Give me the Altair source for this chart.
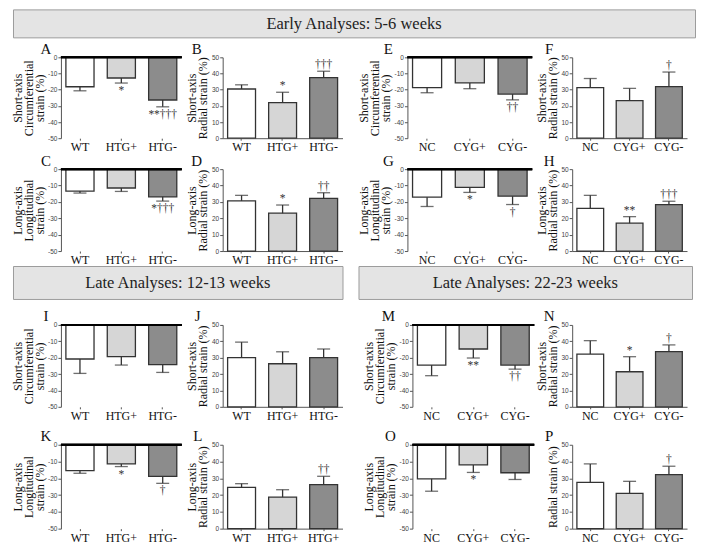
import altair as alt
import pandas as pd

SERIF = "Liberation Serif"

HTG_LABELS = ["WT", "HTG+", "HTG-"]
CYG_LABELS = ["NC", "CYG+", "CYG-"]
L_LABELS = ["WT", "HTG+", "HTG+"]
FILLS = ["#ffffff", "#d6d6d6", "#8c8c8c"]

SA_CIRC = ["Short-axis", "Circumferential", "strain (%)"]
SA_RAD = ["Short-axis", "Radial strain (%)"]
LA_LONG = ["Long-axis", "Longitudinal", "strain (%)"]
LA_RAD = ["Long-axis", "Radial strain (%)"]
RAD_ONLY = "Radial strain (%)"

# ---- Early 5-6 weeks ----
A_mean = [-18.2, -12.8, -26.4]
A_err = [2.5, 3.1, 4.2]
A_sig = ["", "*", "**†††"]
B_mean = [30.4, 22.0, 37.4]
B_err = [2.6, 6.4, 4.0]
B_sig = ["", "*", "†††"]
C_mean = [-13.4, -11.5, -16.9]
C_err = [1.2, 2.1, 2.6]
C_sig = ["", "", "*†††"]
D_mean = [30.6, 23.1, 32.2]
D_err = [3.4, 5.0, 3.4]
D_sig = ["", "*", "††"]
E_mean = [-18.7, -15.8, -22.7]
E_err = [3.2, 3.6, 3.6]
E_sig = ["", "", "††"]
F_mean = [31.3, 23.2, 31.9]
F_err = [5.6, 7.6, 9.0]
F_sig = ["", "", "†"]
G_mean = [-17.1, -11.1, -16.5]
G_err = [5.7, 3.1, 5.1]
G_sig = ["", "*", "†"]
H_mean = [26.0, 17.0, 28.4]
H_err = [8.0, 4.0, 2.0]
H_sig = ["", "**", "†††"]
# ---- Late 12-13 weeks ----
I_mean = [-20.8, -19.4, -24.3]
I_err = [8.8, 5.1, 4.7]
I_sig = ["", "", ""]
J_mean = [30.0, 26.3, 30.0]
J_err = [9.5, 7.3, 5.3]
J_sig = ["", "", ""]
K_mean = [-15.4, -11.4, -18.8]
K_err = [1.6, 1.6, 4.2]
K_sig = ["", "*", "†"]
L_mean = [24.6, 18.8, 26.2]
L_err = [2.2, 4.4, 5.0]
L_sig = ["", "", "††"]
# ---- Late 22-23 weeks ----
M_mean = [-24.5, -14.7, -24.5]
M_err = [6.5, 5.5, 2.5]
M_sig = ["", "**", "††"]
N_mean = [32.2, 21.4, 33.7]
N_err = [8.2, 9.2, 4.1]
N_sig = ["", "*", "†"]
O_mean = [-20.3, -12.0, -16.7]
O_err = [7.4, 4.5, 4.0]
O_sig = ["", "*", ""]
P_mean = [27.6, 21.0, 32.2]
P_err = [11.0, 7.2, 5.0]
P_sig = ["", "", "†"]

DARK = "#333333"
LETTER_DY = -8.5


def panel(letter, labels, means, errs, sigs, ytitle, neg, width, height, letter_dx):
    ends = [m - e if neg else m + e for m, e in zip(means, errs)]
    df = pd.DataFrame({"i": [0, 1, 2], "mean": means, "end": ends, "sig": sigs,
                       "fill": FILLS, "zero": [0, 0, 0]})
    label_expr = "[" + ",".join("'%s'" % l for l in labels) + "][datum.value]"
    xax = alt.Axis(title=None, labelExpr=label_expr, labelAngle=0, labelFont=SERIF,
                   labelFontSize=12, labelColor="#111", labelPadding=1.5, ticks=True,
                   tickSize=2, tickColor="#555", domain=not neg, domainColor="#555")
    x = alt.X("i:O", axis=xax, scale=alt.Scale(paddingInner=0.32, paddingOuter=0.12))
    dom = [-50, 0] if neg else [0, 50]
    vals = list(range(-50, 1, 10)) if neg else list(range(0, 51, 10))
    yax = alt.Axis(title=ytitle, values=vals, tickCount=11, titleFont=SERIF, titleFontSize=12,
                   titleFontWeight="normal", titleColor="#111", titleLineHeight=11,
                   titlePadding=1.5, labelFontSize=6.5, labelColor="#444", labelPadding=1,
                   labelExpr="datum.value", labelOverlap=False, labelBound=False,
                   tickSize=3, tickColor="#555", domainColor="#555", grid=False)
    y = alt.Y("mean:Q", scale=alt.Scale(domain=dom, nice=False), axis=yax)
    base = alt.Chart(df)
    bars = base.mark_bar(stroke=DARK, strokeWidth=1.3).encode(
        x=x, y=y, y2="zero:Q", fill=alt.Fill("fill:N", scale=None))
    err = base.mark_rule(color=DARK, strokeWidth=1.3).encode(x=x, y="mean:Q", y2="end:Q")
    cap = base.mark_tick(color=DARK, thickness=1.3, size=13).encode(x=x, y="end:Q")
    ann = base.mark_text(font=SERIF, fontSize=11.5, color="#333",
                         baseline="top" if neg else "bottom",
                         dy=2 if neg else -1).encode(x=x, y="end:Q", text="sig:N")
    lett = alt.Chart(pd.DataFrame({"t": [letter]})).mark_text(
        font=SERIF, fontSize=15, color="#111", align="center", baseline="middle").encode(
        x=alt.value(letter_dx), y=alt.value(LETTER_DY), text="t:N")
    layers = [bars, err, cap, ann]
    if neg:
        layers.append(base.mark_rule(color="black", strokeWidth=2).encode(y=alt.datum(0)))
    layers.append(lett)
    return alt.layer(*layers).properties(width=width, height=height)


def spacer(w, h):
    return alt.Chart(pd.DataFrame({"t": [""]})).mark_text().encode(
        text="t:N", x=alt.value(0), y=alt.value(0)).properties(width=w, height=h)


def banner(text, w, h):
    return alt.Chart(pd.DataFrame({"t": [text]})).mark_text(
        font=SERIF, fontSize=16.5, color="#222").encode(
        x=alt.value(w / 2), y=alt.value(h / 2 + 1), text="t:N").properties(
        width=w, height=h,
        view=alt.ViewBackground(fill="#e4e4e4", stroke="#9c9c9c", strokeWidth=1))


NCOL = 8
ORIGIN = 12


def panel_row(specs, height):
    items = []
    cur = ORIGIN
    for (px, w, lx, args) in specs:
        items.append(spacer(px - cur, height))
        items.append(panel(*args, width=w, height=height, letter_dx=lx - px))
        cur = px + w
    return items


def spacer_row(h):
    return [spacer(1, h) for _ in range(NCOL)]


def grid(items):
    return alt.concat(*items, columns=NCOL, spacing=0).properties(align="each", bounds="flush")


R1_H, R1_GAP, R2_H = 81, 31, 82
R3_H, R3_GAP, R4_H = 82, 38, 84

grid12 = grid(
    panel_row([
        (60, 121, 45, ("A", HTG_LABELS, A_mean, A_err, A_sig, SA_CIRC, True)),
        (222, 120, 196, ("B", HTG_LABELS, B_mean, B_err, B_sig, SA_RAD, False)),
        (407, 125, 388, ("E", CYG_LABELS, E_mean, E_err, E_sig, SA_CIRC, True)),
        (572, 115, 549, ("F", CYG_LABELS, F_mean, F_err, F_sig, SA_RAD, False)),
    ], R1_H)
    + spacer_row(R1_GAP)
    + panel_row([
        (60, 121, 45, ("C", HTG_LABELS, C_mean, C_err, C_sig, LA_LONG, True)),
        (222, 120, 196, ("D", HTG_LABELS, D_mean, D_err, D_sig, LA_RAD, False)),
        (407, 125, 388, ("G", CYG_LABELS, G_mean, G_err, G_sig, LA_LONG, True)),
        (572, 115, 549, ("H", CYG_LABELS, H_mean, H_err, H_sig, LA_RAD, False)),
    ], R2_H)
)

grid34 = grid(
    panel_row([
        (60, 121, 45, ("I", HTG_LABELS, I_mean, I_err, I_sig, SA_CIRC, True)),
        (222, 120, 197, ("J", HTG_LABELS, J_mean, J_err, J_sig, SA_RAD, False)),
        (412, 122, 388, ("M", CYG_LABELS, M_mean, M_err, M_sig, SA_CIRC, True)),
        (572, 115, 549, ("N", CYG_LABELS, N_mean, N_err, N_sig, SA_RAD, False)),
    ], R3_H)
    + spacer_row(R3_GAP)
    + panel_row([
        (60, 121, 45, ("K", HTG_LABELS, K_mean, K_err, K_sig, LA_LONG, True)),
        (222, 120, 197, ("L", L_LABELS, L_mean, L_err, L_sig, LA_RAD, False)),
        (412, 122, 390, ("O", CYG_LABELS, O_mean, O_err, O_sig, LA_LONG, True)),
        (572, 115, 549, ("P", CYG_LABELS, P_mean, P_err, P_sig, RAD_ONLY, False)),
    ], R4_H)
)

BANNER2_H = 33
banner_row = alt.hconcat(
    banner("Late Analyses: 12-13 weeks", 330, BANNER2_H),
    spacer(16, BANNER2_H),
    banner("Late Analyses: 22-23 weeks", 334, BANNER2_H),
    spacing=0,
).properties(bounds="flush")

# outer stack: flush bounds, nested concats count as zero height,
# so explicit spacers carry the vertical rhythm
chart = alt.vconcat(
    banner("Early Analyses: 5-6 weeks", 683, 28),
    spacer(1, 20),
    grid12,
    spacer(1, R1_H + R1_GAP + R2_H + 15),
    banner_row,
    spacer(1, BANNER2_H + 26),
    grid34,
    spacing=0,
).properties(
    bounds="flush",
    padding={"left": 3, "top": 0, "right": 0, "bottom": 0},
    background="white",
).configure_view(stroke=None)

chart.save("out.html", embed_options={"renderer": "svg", "actions": False})
